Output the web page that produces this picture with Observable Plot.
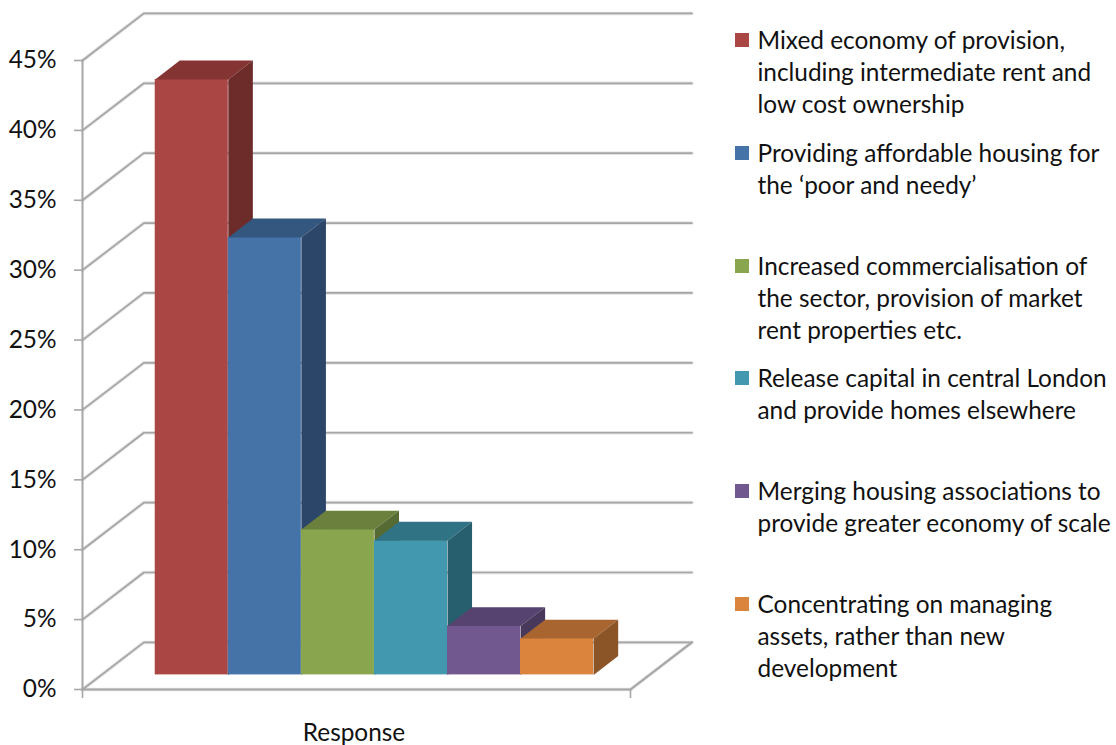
<!DOCTYPE html>
<html>
<head>
<meta charset="utf-8">
<script src="https://cdn.jsdelivr.net/npm/d3@7"></script>
<script src="https://cdn.jsdelivr.net/npm/@observablehq/plot@0.6"></script>
<style>
  html, body { margin: 0; padding: 0; background: #fff; }
  #chart { position: relative; width: 1116px; height: 745px; font-family: Lato, sans-serif; color: #111; overflow: hidden; }
  #chart svg { display: block; }
  #legend { position: absolute; left: 735px; top: 24px; }
  .entry { position: relative; height: 112.8px; padding-left: 22.5px; font-size: 24.4px; line-height: 32px; white-space: pre; }
  .swatch { position: absolute; left: 0; top: 9px; width: 14px; height: 14px; }
</style>
</head>
<body>
<div id="chart"><div id="legend"></div></div>
<script>
// Survey responses, one bar per category, in percent.
const categories = [
  "Mixed economy of provision,\nincluding intermediate rent and\nlow cost ownership",
  "Providing affordable housing for\nthe ‘poor and needy’",
  "Increased commercialisation of\nthe sector, provision of market\nrent properties etc.",
  "Release capital in central London\nand provide homes elsewhere",
  "Merging housing associations to\nprovide greater economy of scale",
  "Concentrating on managing\nassets, rather than new\ndevelopment"
];
const values = [42.6, 31.3, 10.4, 9.6, 3.5, 2.6];
const frontColors = ["#AA4643", "#4572A7", "#89A54E", "#4198AF", "#71588F", "#DB843D"];
const topColors = ["#843533", "#33577F", "#6A803C", "#2F7384", "#56436F", "#A96530"];
const sideColors = ["#6D2B29", "#2B4669", "#566A33", "#285F6F", "#47385C", "#8C5528"];
const yTicks = [0, 5, 10, 15, 20, 25, 30, 35, 40, 45];

// Oblique box: the floor is 7.5 bar widths wide, and depth w runs 0 (front) to 1 (back wall).
const floorWidth = 7.5;
const depthX = 0.84;   // horizontal shift of the back wall, in bar widths
const depthY = 3.37;   // vertical shift of the back wall, in percentage points
const barStart = 0.735;
const barFront = 0.31;
const barBack = 0.71;
const pt = (u, v, w) => ({x: u + w * depthX, y: v + w * depthY});

const gridPaths = yTicks.map((v) => [pt(0, v, 0), pt(0, v, 1), pt(floorWidth, v, 1)]);
const floorPath = [pt(0, 0, 0), pt(floorWidth, 0, 0), pt(floorWidth, 0, 1)];
const wallPath = [pt(0, 0, 0), pt(0, 45, 0)];

const line = (points, options) => Plot.line(points, {x: "x", y: "y", curve: "linear", ...options});

// Bars are layered left to right so each one overlaps the side of its neighbour.
const barMarks = values.flatMap((v, i) => {
  const u0 = barStart + i, u1 = u0 + 1;
  const a = pt(u0, v, barFront), b = pt(u1, 0, barFront);
  return [
    Plot.rect([0], {x1: a.x, x2: b.x, y1: b.y, y2: a.y, fill: frontColors[i]}),
    line([pt(u0, v, barFront), pt(u1, v, barFront), pt(u1, v, barBack), pt(u0, v, barBack), pt(u0, v, barFront)],
         {fill: topColors[i], stroke: null}),
    line([pt(u1, v, barFront), pt(u1, v, barBack), pt(u1, 0, barBack), pt(u1, 0, barFront), pt(u1, v, barFront)],
         {fill: sideColors[i], stroke: null})
  ];
});

const lineColor = "#A6A6A6";
const haloColor = "#E2E2E2";

const plot = Plot.plot({
  width: 1116,
  height: 745,
  marginLeft: 82,
  marginRight: 486,
  marginTop: 60,
  marginBottom: 56,
  x: {domain: [0, floorWidth]},
  y: {domain: [0, 45]},
  style: {fontFamily: "Lato, sans-serif", background: "transparent"},
  marks: [
    ...gridPaths.map((p) => line(p, {stroke: haloColor, strokeWidth: 3.5})),
    line(floorPath, {stroke: haloColor, strokeWidth: 3.5}),
    ...gridPaths.map((p) => line(p, {stroke: lineColor, strokeWidth: 1.7})),
    line(floorPath, {stroke: lineColor, strokeWidth: 2}),
    line(wallPath, {stroke: lineColor, strokeWidth: 2}),
    Plot.axisY({
      ticks: yTicks,
      tickSize: 8,
      tickPadding: 18,
      tickFormat: (d) => d + "%",
      label: null,
      fontSize: 24.4,
      stroke: lineColor,
      strokeWidth: 1.6,
      fill: "#111",
      textStroke: "none"
    }),
    Plot.axisX({
      ticks: [0, floorWidth],
      tickSize: 9,
      tickFormat: () => "",
      label: null,
      stroke: lineColor,
      strokeWidth: 1.6
    }),
    Plot.text(["Response"], {
      x: floorWidth / 2,
      frameAnchor: "bottom",
      dx: -2.5,
      dy: 44,
      lineAnchor: "middle",
      fontSize: 24.4,
      fill: "#111"
    }),
    ...barMarks
  ]
});
const chart = document.getElementById("chart");
chart.insertBefore(plot, chart.firstChild);

// Legend column to the right of the plot.
const legend = d3.select("#legend");
categories.forEach((name, i) => {
  const entry = legend.append("div").attr("class", "entry");
  entry.append("span").attr("class", "swatch").style("background", frontColors[i]);
  entry.append("span").text(name);
});
</script>
</body>
</html>
